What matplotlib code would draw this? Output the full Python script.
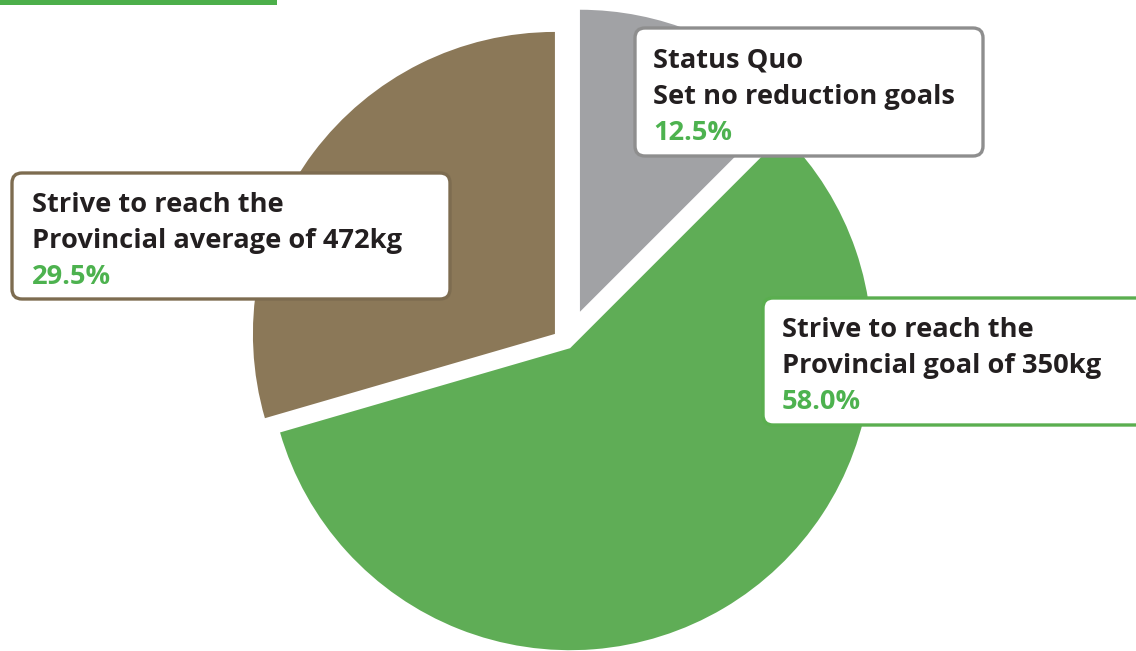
import matplotlib
matplotlib.use('Agg')
import matplotlib.pyplot as plt
from matplotlib.patches import FancyBboxPatch, Rectangle

# --- data ---
categories = ['Status Quo\nSet no reduction goals',
              'Strive to reach the\nProvincial goal of 350kg',
              'Strive to reach the\nProvincial average of 472kg']
shares = [12.5, 58.0, 29.5]
share_labels = ['12.5%', '58.0%', '29.5%']

# --- style ---
SLICE_COLORS = ['#a1a2a5', '#5fad56', '#8b7858']
BORDER_COLORS = ['#8e8e8e', '#5aae4f', '#7d6c50']
RADIUS = 302
EXPLODE = [0.112 * RADIUS, 0.02 * RADIUS, 0.05 * RADIUS]  # pie takes absolute offsets
TEXT_DARK = '#231f20'
PCT_GREEN = '#4db24f'
W, H = 1136, 651
plt.rcParams['font.family'] = ['Open Sans', 'DejaVu Sans']

fig = plt.figure(figsize=(W / 100, H / 100), dpi=100)
ax = fig.add_axes([0, 0, 1, 1])

ax.pie(shares, colors=SLICE_COLORS, explode=EXPLODE, startangle=90,
       counterclock=False, center=(567, H - 343), radius=RADIUS,
       wedgeprops=dict(linewidth=0), frame=True)
ax.set_xlim(0, W)
ax.set_ylim(0, H)
ax.axis('off')

# partial green header bar in the top-left corner
ax.add_patch(Rectangle((0, H - 5), 277, 6, color='#4caf4a', lw=0))

# label boxes: (left, top, right, bottom) in pixels, text left, first baseline
boxes = [
    (635, 28, 983, 156, 653, 68),     # status quo
    (763, 298, 1150, 425, 782, 337),  # provincial goal
    (12, 173, 450, 299, 32, 212),     # provincial average
]
LINE_GAP = 36
FONT_SIZE = 19.6

for i, (l, t, r, b, tx, ty) in enumerate(boxes):
    box = FancyBboxPatch((l, H - b), r - l, b - t,
                         boxstyle='round,pad=0,rounding_size=10',
                         fc='white', ec=BORDER_COLORS[i], lw=2.4, zorder=3)
    ax.add_patch(box)
    for k, line in enumerate(categories[i].split('\n')):
        ax.text(tx, H - (ty + k * LINE_GAP), line, fontsize=FONT_SIZE,
                fontweight='bold', color=TEXT_DARK, va='baseline', zorder=4)
    ax.text(tx, H - (ty + 2 * LINE_GAP), share_labels[i], fontsize=FONT_SIZE,
            fontweight='bold', color=PCT_GREEN, va='baseline', zorder=4)

fig.savefig('out.png', dpi=100, facecolor='white')
